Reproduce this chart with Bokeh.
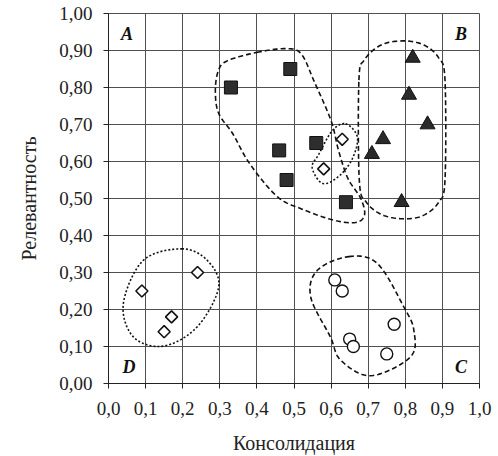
import numpy as np
from bokeh.plotting import figure
from bokeh.models import Range1d, FixedTicker, ColumnDataSource
from bokeh.core.properties import value
from bokeh.embed import file_html
from bokeh.resources import INLINE

# ---- data ----
sq_x = [0.33, 0.49, 0.46, 0.48, 0.56, 0.64]
sq_y = [0.80, 0.85, 0.63, 0.55, 0.65, 0.49]
tri_x = [0.82, 0.81, 0.86, 0.74, 0.71, 0.79]
tri_y = [0.88, 0.78, 0.70, 0.66, 0.62, 0.49]
dia_x = [0.63, 0.58, 0.09, 0.17, 0.15, 0.24]
dia_y = [0.66, 0.58, 0.25, 0.18, 0.14, 0.30]
cir_x = [0.61, 0.63, 0.77, 0.65, 0.66, 0.75]
cir_y = [0.28, 0.25, 0.16, 0.12, 0.10, 0.08]

x_ticks = [0.0, 0.1, 0.2, 0.3, 0.4, 0.5, 0.6, 0.7, 0.8, 0.9, 1.0]
x_tick_labels = ["0,0", "0,1", "0,2", "0,3", "0,4", "0,5", "0,6", "0,7", "0,8", "0,9", "1,0"]
y_ticks = [0.0, 0.1, 0.2, 0.3, 0.4, 0.5, 0.6, 0.7, 0.8, 0.9, 1.0]
y_tick_labels = ["0,00", "0,10", "0,20", "0,30", "0,40", "0,50", "0,60", "0,70", "0,80", "0,90", "1,00"]

quad_labels = ["A", "B", "C", "D"]
quad_x = [0.05, 0.95, 0.95, 0.055]
quad_y = [0.945, 0.945, 0.045, 0.045]

# cluster outlines (control points, data coords)
outline_sq_x = [0.40, 0.48, 0.52, 0.555, 0.60, 0.62, 0.645, 0.68, 0.69, 0.665, 0.605, 0.525, 0.455, 0.38, 0.335, 0.297, 0.288, 0.296, 0.32]
outline_sq_y = [0.895, 0.905, 0.89, 0.815, 0.71, 0.63, 0.555, 0.50, 0.455, 0.435, 0.442, 0.47, 0.505, 0.595, 0.675, 0.73, 0.79, 0.845, 0.872]
outline_tri_x = [0.675, 0.69, 0.735, 0.795, 0.85, 0.89, 0.907, 0.907, 0.89, 0.85, 0.80, 0.74, 0.695, 0.676]
outline_tri_y = [0.82, 0.875, 0.915, 0.926, 0.915, 0.88, 0.82, 0.55, 0.49, 0.455, 0.445, 0.455, 0.49, 0.55]
outline_mid_x = [0.639, 0.671, 0.655, 0.617, 0.576, 0.549, 0.567, 0.603]
outline_mid_y = [0.702, 0.665, 0.603, 0.557, 0.541, 0.584, 0.62, 0.683]
outline_d_x = [0.198, 0.266, 0.297, 0.239, 0.148, 0.067, 0.04, 0.094]
outline_d_y = [0.364, 0.333, 0.261, 0.153, 0.101, 0.126, 0.216, 0.333]
outline_c_x = [0.648, 0.725, 0.796, 0.823, 0.814, 0.707, 0.626, 0.598, 0.545, 0.563]
outline_c_y = [0.343, 0.324, 0.207, 0.144, 0.072, 0.021, 0.063, 0.126, 0.234, 0.306]


def smooth_closed(xs, ys, n=16):
    P = np.column_stack([xs, ys])
    m = len(P)
    out = []
    for i in range(m):
        p0, p1, p2, p3 = P[(i - 1) % m], P[i], P[(i + 1) % m], P[(i + 2) % m]
        for t in np.linspace(0, 1, n, endpoint=False):
            t2, t3 = t * t, t * t * t
            pt = 0.5 * ((2 * p1) + (-p0 + p2) * t + (2 * p0 - 5 * p1 + 4 * p2 - p3) * t2 + (-p0 + 3 * p1 - 3 * p2 + p3) * t3)
            out.append(pt)
    out.append(out[0])
    out = np.array(out)
    return out[:, 0], out[:, 1]


FONT = "Liberation Serif"
GRID = "#505050"

p = figure(width=498, height=456, output_backend="svg", toolbar_location=None,
           x_range=Range1d(0, 1), y_range=Range1d(0, 1),
           min_border_left=108, min_border_right=19, min_border_top=13, min_border_bottom=73)
p.background_fill_color = "white"
p.border_fill_color = "white"
p.outline_line_color = GRID
p.outline_line_width = 1

for ax in (p.xaxis[0], p.yaxis[0]):
    ax.major_label_text_font = FONT
    ax.major_label_text_font_size = "19px"
    ax.major_label_text_color = "#222222"
    ax.axis_label_text_font = FONT
    ax.axis_label_text_font_size = "20px"
    ax.axis_label_text_font_style = "normal"
    ax.axis_label_text_color = "#222222"
    ax.major_tick_out = 5
    ax.major_tick_in = 0
    ax.minor_tick_out = 0
    ax.minor_tick_in = 0
    ax.axis_line_color = "#222222"
    ax.major_tick_line_color = "#222222"

p.xaxis.ticker = FixedTicker(ticks=x_ticks)
p.yaxis.ticker = FixedTicker(ticks=y_ticks)
p.xaxis.major_label_overrides = dict(zip(x_ticks, x_tick_labels))
p.yaxis.major_label_overrides = dict(zip(y_ticks, y_tick_labels))
p.xaxis.axis_label = "Консолидация"
p.yaxis.axis_label = "Релевантность"
p.xaxis.major_label_standoff = 13
p.yaxis.major_label_standoff = 11
p.xaxis.axis_label_standoff = 14
p.yaxis.axis_label_standoff = 16

p.xgrid.ticker = FixedTicker(ticks=x_ticks)
p.ygrid.ticker = FixedTicker(ticks=y_ticks)
p.grid.grid_line_color = GRID
p.grid.grid_line_width = 1

# outlines
for ox, oy, dash in [(outline_sq_x, outline_sq_y, "5 3"),
                     (outline_tri_x, outline_tri_y, "5 3"),
                     (outline_c_x, outline_c_y, "5 3"),
                     (outline_mid_x, outline_mid_y, "2 2"),
                     (outline_d_x, outline_d_y, "2 2")]:
    sx, sy = smooth_closed(ox, oy)
    p.line(sx, sy, line_color="#111111", line_width=1.6, line_dash=dash)

# markers
p.scatter(sq_x, sq_y, marker="square", size=13, fill_color="#2e2e2e", line_color="#111111", line_width=1)
p.scatter(tri_x, tri_y, marker="triangle", size=15, fill_color="#2a2a2a", line_color="#111111", line_width=1)
p.scatter(dia_x, dia_y, marker="square", angle=np.pi / 4, size=8.5, fill_color="white", line_color="#111111", line_width=1.6)
p.scatter(cir_x, cir_y, marker="circle", size=12, fill_color="white", line_color="#111111", line_width=1.4)

src = ColumnDataSource(dict(x=quad_x, y=quad_y, t=quad_labels))
p.text(x="x", y="y", text="t", source=src, text_font=value(FONT), text_font_size="18px",
       text_font_style="bold italic", text_align="center", text_baseline="middle", text_color="#111111")

open("out.html", "w").write(file_html(p, INLINE))
